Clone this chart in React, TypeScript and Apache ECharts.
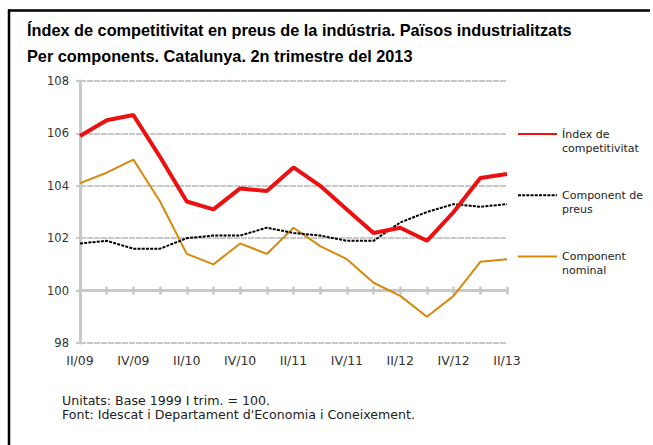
import React, { useEffect, useRef } from "react";
import * as echarts from "echarts";

const quarters = [
  "II/09", "III/09", "IV/09", "I/10", "II/10", "III/10", "IV/10", "I/11",
  "II/11", "III/11", "IV/11", "I/12", "II/12", "III/12", "IV/12", "I/13", "II/13",
];
const indexValues = [105.9, 106.5, 106.7, 105.1, 103.4, 103.1, 103.9, 103.8, 104.7, 104.0, 103.1, 102.2, 102.4, 101.9, 103.0, 104.3, 104.45];
const priceValues = [101.8, 101.9, 101.6, 101.6, 102.0, 102.1, 102.1, 102.4, 102.2, 102.1, 101.9, 101.9, 102.6, 103.0, 103.3, 103.2, 103.3];
const nominalValues = [104.1, 104.5, 105.0, 103.4, 101.4, 101.0, 101.8, 101.4, 102.4, 101.7, 101.2, 100.3, 99.8, 99.0, 99.8, 101.1, 101.2];

const seriesNames = ["Índex de competitivitat", "Component de preus", "Component nominal"];
const legendLabels: Record<string, string> = {
  "Índex de competitivitat": "Índex de\ncompetitivitat",
  "Component de preus": "Component de\npreus",
  "Component nominal": "Component\nnominal",
};
const titleText = "Índex de competitivitat en preus de la indústria. Països industrialitzats\nPer components. Catalunya. 2n trimestre del 2013";
const footerText = "Unitats: Base 1999 I trim. = 100.\nFont: Idescat i Departament d'Economia i Coneixement.";

const Y_MIN = 98;
const Y_MAX = 108;
const BASE_LINE = 100;

export default function App() {
  const ref = useRef<HTMLDivElement>(null);
  useEffect(() => {
    if (!ref.current) return;
    const chart = echarts.init(ref.current, undefined, { renderer: "svg" });
    const gridTop = 81;
    const gridBottom = 102;
    const gridHeight = 445 - gridTop - gridBottom;
    const baseOffset = -((BASE_LINE - Y_MIN) / (Y_MAX - Y_MIN)) * gridHeight;
    const grey = "#c8c8c8";
    const font = "DejaVu Sans";
    const baseAxis = (inside: boolean) => ({
      type: "category",
      data: quarters,
      boundaryGap: false,
      position: "bottom",
      offset: baseOffset,
      axisLine: { show: !inside, lineStyle: { color: grey, width: 3 } },
      axisTick: { show: true, interval: 0, inside, length: 4, lineStyle: { color: grey, width: 2.5 } },
      axisLabel: { show: false },
      splitLine: { show: false },
      z: 1,
    });
    chart.setOption({
      animation: false,
      backgroundColor: "#ffffff",
      title: [
        {
          text: titleText,
          left: 27,
          top: 17,
          padding: 0,
          textStyle: { fontFamily: "Liberation Sans", fontWeight: "bold", fontSize: 16.3, lineHeight: 26, color: "#000" },
        },
        {
          text: footerText,
          left: 62,
          top: 393,
          padding: 0,
          textStyle: { fontFamily: font, fontWeight: "normal", fontSize: 12.6, lineHeight: 14, color: "#222" },
        },
      ],
      graphic: [
        { type: "line", shape: { x1: 8, y1: 10.5, x2: 650, y2: 10.5 }, style: { stroke: "#000", lineWidth: 2.5 } },
        { type: "line", shape: { x1: 9, y1: 9.5, x2: 9, y2: 445 }, style: { stroke: "#000", lineWidth: 2.5 } },
      ],
      legend: {
        orient: "vertical",
        left: 517,
        top: 113,
        padding: 0,
        itemWidth: 39,
        itemHeight: 14,
        itemGap: 19.3,
        data: seriesNames,
        itemStyle: { opacity: 0 },
        formatter: (name: string) => "\n" + (legendLabels[name] || name),
        textStyle: { fontFamily: font, fontSize: 11, lineHeight: 14, color: "#222" },
      },
      grid: { left: 80, right: 146, top: gridTop, bottom: gridBottom },
      xAxis: [
        {
          type: "category",
          data: quarters,
          boundaryGap: false,
          axisLine: { show: false },
          axisTick: { show: false },
          axisLabel: { interval: 1, margin: 11, fontFamily: font, fontSize: 12.5, color: "#333" },
          splitLine: { show: false },
        },
        baseAxis(false),
        baseAxis(true),
      ],
      yAxis: {
        type: "value",
        min: Y_MIN,
        max: Y_MAX,
        interval: 2,
        axisLine: { show: true, lineStyle: { color: grey, width: 3 } },
        axisTick: { show: true, length: 4, lineStyle: { color: grey, width: 2 } },
        axisLabel: { margin: 11, fontFamily: font, fontSize: 11.5, color: "#333" },
        splitLine: { show: true, lineStyle: { color: grey, width: 2, type: [6, 1] } },
      },
      series: [
        {
          name: seriesNames[0],
          type: "line",
          data: indexValues,
          symbol: "none",
          lineStyle: { color: "#ec1010", width: 4 },
          itemStyle: { color: "#ec1010" },
          z: 4,
        },
        {
          name: seriesNames[1],
          type: "line",
          data: priceValues,
          symbol: "none",
          lineStyle: { color: "#000000", width: 2, type: [3, 1.2] },
          itemStyle: { color: "#000000" },
          z: 3,
        },
        {
          name: seriesNames[2],
          type: "line",
          data: nominalValues,
          symbol: "none",
          lineStyle: { color: "#d6890a", width: 2 },
          itemStyle: { color: "#d6890a" },
          z: 2,
        },
      ],
    });
    return () => chart.dispose();
  }, []);
  return (
    <div
      ref={ref}
      style={{ position: "fixed", left: 0, top: 0, width: 653, height: 445, background: "#fff" }}
    />
  );
}
